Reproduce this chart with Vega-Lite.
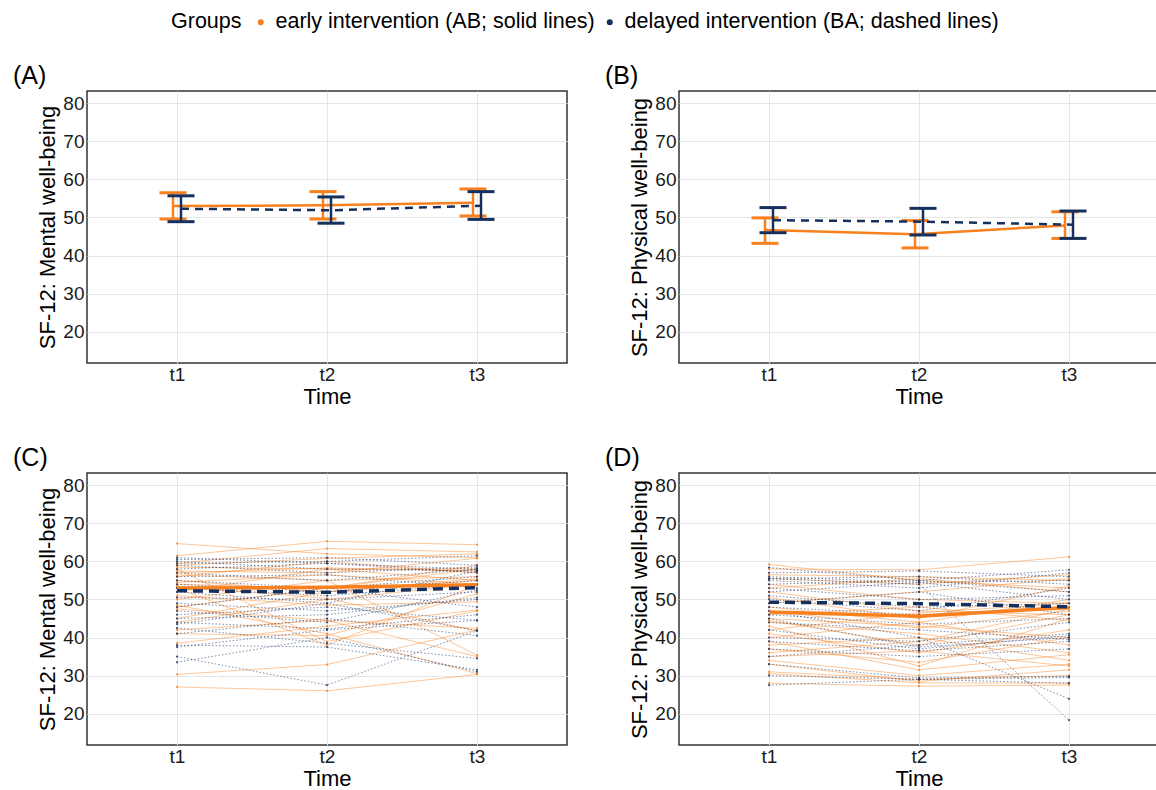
{
  "$schema": "https://vega.github.io/schema/vega-lite/v6.json",
  "padding": {"left": 12, "top": 11, "right": 0, "bottom": 0},
  "background": "white",
  "config": {
    "font": "Liberation Sans",
    "view": {"stroke": "#333333", "strokeWidth": 1.5},
    "axis": {"grid": true, "gridColor": "#e6e6e6", "gridWidth": 1, "domain": false, "ticks": false, "labelFontSize": 19, "labelColor": "#1a1a1a", "titleFontSize": 22, "titleFontWeight": "normal", "titleColor": "#000000", "labelPadding": 3},
    "axisX": {"labelAngle": 0, "labelPadding": 2, "titlePadding": 2},
    "axisY": {"titlePadding": 3},
    "title": {"anchor": "start", "frame": "group", "dx": -74, "fontSize": 25, "fontWeight": "normal", "offset": 2, "color": "#000000"}
  },
  "datasets": {
    "means": [
      {"p": "M", "g": "AB", "time": "t1", "mean": 53.0, "lo": 49.6, "hi": 56.5},
      {"p": "M", "g": "AB", "time": "t2", "mean": 53.2, "lo": 49.6, "hi": 56.8},
      {"p": "M", "g": "AB", "time": "t3", "mean": 53.9, "lo": 50.4, "hi": 57.5},
      {"p": "M", "g": "BA", "time": "t1", "mean": 52.3, "lo": 48.9, "hi": 55.7},
      {"p": "M", "g": "BA", "time": "t2", "mean": 51.9, "lo": 48.5, "hi": 55.4},
      {"p": "M", "g": "BA", "time": "t3", "mean": 53.1, "lo": 49.5, "hi": 56.8},
      {"p": "P", "g": "AB", "time": "t1", "mean": 46.7, "lo": 43.2, "hi": 49.9},
      {"p": "P", "g": "AB", "time": "t2", "mean": 45.6, "lo": 42.0, "hi": 49.2},
      {"p": "P", "g": "AB", "time": "t3", "mean": 47.9, "lo": 44.5, "hi": 51.5},
      {"p": "P", "g": "BA", "time": "t1", "mean": 49.3, "lo": 46.0, "hi": 52.6},
      {"p": "P", "g": "BA", "time": "t2", "mean": 48.9, "lo": 45.4, "hi": 52.4},
      {"p": "P", "g": "BA", "time": "t3", "mean": 48.1, "lo": 44.5, "hi": 51.7}
    ],
    "indiv": [
      {"p": "M", "g": "AB", "id": 1, "t1": 64.7, "t2": 62.0, "t3": 61.0},
      {"p": "M", "g": "AB", "id": 2, "t1": 61.5, "t2": 65.3, "t3": 64.4},
      {"p": "M", "g": "AB", "id": 3, "t1": 59.5, "t2": 63.4, "t3": 62.5},
      {"p": "M", "g": "AB", "id": 4, "t1": 59.0, "t2": 60.8, "t3": 62.0},
      {"p": "M", "g": "AB", "id": 5, "t1": 58.5, "t2": 58.0, "t3": 58.0},
      {"p": "M", "g": "AB", "id": 6, "t1": 58.0, "t2": 38.9, "t3": 47.0},
      {"p": "M", "g": "AB", "id": 7, "t1": 57.5, "t2": 57.0, "t3": 60.8},
      {"p": "M", "g": "AB", "id": 8, "t1": 57.0, "t2": 58.3, "t3": 57.5},
      {"p": "M", "g": "AB", "id": 9, "t1": 56.5, "t2": 55.0, "t3": 35.4},
      {"p": "M", "g": "AB", "id": 10, "t1": 56.0, "t2": 60.0, "t3": 57.0},
      {"p": "M", "g": "AB", "id": 11, "t1": 55.0, "t2": 52.0, "t3": 55.5},
      {"p": "M", "g": "AB", "id": 12, "t1": 54.5, "t2": 56.5, "t3": 54.0},
      {"p": "M", "g": "AB", "id": 13, "t1": 54.0, "t2": 53.0, "t3": 59.0},
      {"p": "M", "g": "AB", "id": 14, "t1": 53.5, "t2": 50.3, "t3": 41.7},
      {"p": "M", "g": "AB", "id": 15, "t1": 53.0, "t2": 38.0, "t3": 53.8},
      {"p": "M", "g": "AB", "id": 16, "t1": 52.0, "t2": 58.0, "t3": 55.0},
      {"p": "M", "g": "AB", "id": 17, "t1": 51.0, "t2": 48.5, "t3": 49.4},
      {"p": "M", "g": "AB", "id": 18, "t1": 50.0, "t2": 55.0, "t3": 56.0},
      {"p": "M", "g": "AB", "id": 19, "t1": 48.0, "t2": 53.0, "t3": 58.0},
      {"p": "M", "g": "AB", "id": 20, "t1": 47.5, "t2": 44.5, "t3": 35.0},
      {"p": "M", "g": "AB", "id": 21, "t1": 45.0, "t2": 52.0, "t3": 55.0},
      {"p": "M", "g": "AB", "id": 22, "t1": 44.0, "t2": 50.0, "t3": 54.0},
      {"p": "M", "g": "AB", "id": 23, "t1": 42.0, "t2": 44.5, "t3": 42.4},
      {"p": "M", "g": "AB", "id": 24, "t1": 41.0, "t2": 40.5, "t3": 51.5},
      {"p": "M", "g": "AB", "id": 25, "t1": 38.5, "t2": 43.0, "t3": 47.2},
      {"p": "M", "g": "AB", "id": 26, "t1": 30.3, "t2": 32.9, "t3": 42.0},
      {"p": "M", "g": "AB", "id": 27, "t1": 27.0, "t2": 26.0, "t3": 30.3},
      {"p": "M", "g": "AB", "id": 28, "t1": 48.5, "t2": 41.0, "t3": 30.5},
      {"p": "M", "g": "BA", "id": 29, "t1": 61.0, "t2": 59.5, "t3": 58.0},
      {"p": "M", "g": "BA", "id": 30, "t1": 60.5, "t2": 61.0, "t3": 59.0},
      {"p": "M", "g": "BA", "id": 31, "t1": 60.0, "t2": 58.0, "t3": 57.5},
      {"p": "M", "g": "BA", "id": 32, "t1": 59.5, "t2": 60.0, "t3": 61.5},
      {"p": "M", "g": "BA", "id": 33, "t1": 59.0, "t2": 57.0, "t3": 58.5},
      {"p": "M", "g": "BA", "id": 34, "t1": 58.0, "t2": 59.5, "t3": 57.0},
      {"p": "M", "g": "BA", "id": 35, "t1": 57.0, "t2": 55.0, "t3": 58.0},
      {"p": "M", "g": "BA", "id": 36, "t1": 56.0, "t2": 56.5, "t3": 53.0},
      {"p": "M", "g": "BA", "id": 37, "t1": 55.0, "t2": 53.0, "t3": 56.0},
      {"p": "M", "g": "BA", "id": 38, "t1": 54.0, "t2": 52.0, "t3": 55.0},
      {"p": "M", "g": "BA", "id": 39, "t1": 53.0, "t2": 51.0, "t3": 54.0},
      {"p": "M", "g": "BA", "id": 40, "t1": 52.0, "t2": 49.0, "t3": 57.5},
      {"p": "M", "g": "BA", "id": 41, "t1": 50.5, "t2": 50.0, "t3": 52.0},
      {"p": "M", "g": "BA", "id": 42, "t1": 49.0, "t2": 47.0, "t3": 50.0},
      {"p": "M", "g": "BA", "id": 43, "t1": 48.0, "t2": 53.0, "t3": 48.0},
      {"p": "M", "g": "BA", "id": 44, "t1": 47.0, "t2": 44.0, "t3": 52.5},
      {"p": "M", "g": "BA", "id": 45, "t1": 46.0, "t2": 48.0, "t3": 44.5},
      {"p": "M", "g": "BA", "id": 46, "t1": 45.0, "t2": 46.0, "t3": 50.5},
      {"p": "M", "g": "BA", "id": 47, "t1": 44.0, "t2": 42.3, "t3": 46.0},
      {"p": "M", "g": "BA", "id": 48, "t1": 43.5, "t2": 49.0, "t3": 41.8},
      {"p": "M", "g": "BA", "id": 49, "t1": 42.5, "t2": 38.5, "t3": 34.5},
      {"p": "M", "g": "BA", "id": 50, "t1": 41.0, "t2": 45.0, "t3": 40.5},
      {"p": "M", "g": "BA", "id": 51, "t1": 38.0, "t2": 37.5, "t3": 31.5},
      {"p": "M", "g": "BA", "id": 52, "t1": 37.5, "t2": 42.0, "t3": 44.5},
      {"p": "M", "g": "BA", "id": 53, "t1": 35.0, "t2": 27.5, "t3": 41.8},
      {"p": "M", "g": "BA", "id": 54, "t1": 33.5, "t2": 40.0, "t3": 31.0},
      {"p": "P", "g": "AB", "id": 55, "t1": 59.2, "t2": 55.0, "t3": 53.0},
      {"p": "P", "g": "AB", "id": 56, "t1": 58.0, "t2": 57.8, "t3": 61.2},
      {"p": "P", "g": "AB", "id": 57, "t1": 56.5, "t2": 56.0, "t3": 55.0},
      {"p": "P", "g": "AB", "id": 58, "t1": 55.5, "t2": 54.0, "t3": 56.5},
      {"p": "P", "g": "AB", "id": 59, "t1": 54.0, "t2": 50.0, "t3": 49.0},
      {"p": "P", "g": "AB", "id": 60, "t1": 53.0, "t2": 55.5, "t3": 52.0},
      {"p": "P", "g": "AB", "id": 61, "t1": 52.0, "t2": 47.0, "t3": 46.0},
      {"p": "P", "g": "AB", "id": 62, "t1": 50.5, "t2": 45.0, "t3": 53.5},
      {"p": "P", "g": "AB", "id": 63, "t1": 49.0, "t2": 52.0, "t3": 55.5},
      {"p": "P", "g": "AB", "id": 64, "t1": 48.0, "t2": 44.0, "t3": 50.0},
      {"p": "P", "g": "AB", "id": 65, "t1": 47.0, "t2": 42.5, "t3": 47.0},
      {"p": "P", "g": "AB", "id": 66, "t1": 46.0, "t2": 48.0, "t3": 44.5},
      {"p": "P", "g": "AB", "id": 67, "t1": 45.0, "t2": 43.0, "t3": 40.0},
      {"p": "P", "g": "AB", "id": 68, "t1": 44.5, "t2": 38.0, "t3": 46.0},
      {"p": "P", "g": "AB", "id": 69, "t1": 44.0, "t2": 41.0, "t3": 36.0},
      {"p": "P", "g": "AB", "id": 70, "t1": 43.0, "t2": 32.5, "t3": 45.0},
      {"p": "P", "g": "AB", "id": 71, "t1": 42.0, "t2": 46.5, "t3": 49.0},
      {"p": "P", "g": "AB", "id": 72, "t1": 41.0, "t2": 36.0, "t3": 42.0},
      {"p": "P", "g": "AB", "id": 73, "t1": 40.0, "t2": 44.0, "t3": 38.0},
      {"p": "P", "g": "AB", "id": 74, "t1": 39.0, "t2": 31.5, "t3": 35.5},
      {"p": "P", "g": "AB", "id": 75, "t1": 38.0, "t2": 40.0, "t3": 34.0},
      {"p": "P", "g": "AB", "id": 76, "t1": 37.0, "t2": 33.5, "t3": 40.0},
      {"p": "P", "g": "AB", "id": 77, "t1": 36.0, "t2": 39.0, "t3": 47.5},
      {"p": "P", "g": "AB", "id": 78, "t1": 35.0, "t2": 36.5, "t3": 32.5},
      {"p": "P", "g": "AB", "id": 79, "t1": 34.0, "t2": 30.0, "t3": 33.0},
      {"p": "P", "g": "AB", "id": 80, "t1": 33.0, "t2": 28.5, "t3": 31.5},
      {"p": "P", "g": "AB", "id": 81, "t1": 31.0, "t2": 29.0, "t3": 30.0},
      {"p": "P", "g": "AB", "id": 82, "t1": 30.5, "t2": 28.1, "t3": 28.0},
      {"p": "P", "g": "AB", "id": 83, "t1": 28.0, "t2": 27.2, "t3": 27.5},
      {"p": "P", "g": "BA", "id": 84, "t1": 58.4, "t2": 55.0, "t3": 57.8},
      {"p": "P", "g": "BA", "id": 85, "t1": 57.0, "t2": 57.5, "t3": 56.0},
      {"p": "P", "g": "BA", "id": 86, "t1": 55.5, "t2": 54.0, "t3": 18.3},
      {"p": "P", "g": "BA", "id": 87, "t1": 47.0, "t2": 40.0, "t3": 23.9},
      {"p": "P", "g": "BA", "id": 88, "t1": 56.0, "t2": 54.5, "t3": 55.0},
      {"p": "P", "g": "BA", "id": 89, "t1": 55.5, "t2": 56.0, "t3": 54.0},
      {"p": "P", "g": "BA", "id": 90, "t1": 55.0, "t2": 53.0, "t3": 57.0},
      {"p": "P", "g": "BA", "id": 91, "t1": 54.0, "t2": 55.0, "t3": 52.0},
      {"p": "P", "g": "BA", "id": 92, "t1": 53.0, "t2": 50.0, "t3": 51.0},
      {"p": "P", "g": "BA", "id": 93, "t1": 52.0, "t2": 54.5, "t3": 50.0},
      {"p": "P", "g": "BA", "id": 94, "t1": 51.0, "t2": 48.0, "t3": 49.0},
      {"p": "P", "g": "BA", "id": 95, "t1": 50.0, "t2": 47.0, "t3": 53.0},
      {"p": "P", "g": "BA", "id": 96, "t1": 49.0, "t2": 52.0, "t3": 46.0},
      {"p": "P", "g": "BA", "id": 97, "t1": 48.0, "t2": 46.0, "t3": 48.0},
      {"p": "P", "g": "BA", "id": 98, "t1": 46.0, "t2": 43.5, "t3": 45.0},
      {"p": "P", "g": "BA", "id": 99, "t1": 45.0, "t2": 37.5, "t3": 40.0},
      {"p": "P", "g": "BA", "id": 100, "t1": 44.0, "t2": 42.0, "t3": 39.5},
      {"p": "P", "g": "BA", "id": 101, "t1": 42.0, "t2": 37.0, "t3": 40.5},
      {"p": "P", "g": "BA", "id": 102, "t1": 40.0, "t2": 39.0, "t3": 44.0},
      {"p": "P", "g": "BA", "id": 103, "t1": 39.0, "t2": 36.5, "t3": 39.0},
      {"p": "P", "g": "BA", "id": 104, "t1": 37.0, "t2": 35.0, "t3": 37.0},
      {"p": "P", "g": "BA", "id": 105, "t1": 35.0, "t2": 38.0, "t3": 41.0},
      {"p": "P", "g": "BA", "id": 106, "t1": 33.0, "t2": 29.4, "t3": 29.8},
      {"p": "P", "g": "BA", "id": 107, "t1": 30.0, "t2": 29.0, "t3": 28.0},
      {"p": "P", "g": "BA", "id": 108, "t1": 27.5, "t2": 29.0, "t3": 29.5}
    ]
  },
  "columns": 2,
  "spacing": {"row": 37, "column": 36},
  "resolve": {"scale": {"color": "shared", "x": "independent", "y": "independent"}, "legend": {"color": "shared"}},
  "concat": [
    {
      "title": {"text": "(A)"},
      "width": 480, "height": 272,
      "data": {"name": "means"},
      "transform": [{"filter": "datum.p == 'M'"}],
      "encoding": {
        "x": {"field": "time", "type": "nominal", "scale": {"type": "point", "padding": 0.6, "domain": ["t1", "t2", "t3"]}, "axis": {"title": "Time"}},
        "color": {"field": "g", "type": "nominal", "scale": {"domain": ["AB", "BA"], "range": ["#F8801E", "#15305E"]},
          "legend": {"orient": "none", "legendX": 84, "legendY": -80, "direction": "horizontal", "title": "Groups", "titleOrient": "left", "titleFontSize": 21.5, "titleFontWeight": "normal", "titleColor": "#000000", "titlePadding": 8, "labelFontSize": 21.5, "labelColor": "#000000", "labelLimit": 0, "labelOffset": 4, "columnPadding": 4, "symbolType": "circle", "symbolSize": 36,
            "labelExpr": "datum.label == 'AB' ? 'early intervention (AB; solid lines)' : 'delayed intervention (BA; dashed lines)'",
            "encode": {"symbols": {"update": {"fill": {"scale": "color", "field": "value"}, "fillOpacity": {"value": 1}, "strokeWidth": {"value": 0}, "opacity": {"value": 1}}}}}}
      },
      "layer": [
        {"transform": [{"filter": "datum.g == 'AB'"}], "mark": {"type": "line", "strokeWidth": 2.5, "xOffset": -4},
          "encoding": {"y": {"field": "mean", "type": "quantitative", "title": "SF-12: Mental well-being", "scale": {"domain": [11.75, 83.25], "nice": false, "zero": false}, "axis": {"values": [20, 30, 40, 50, 60, 70, 80]}}}},
        {"transform": [{"filter": "datum.g == 'AB'"}], "mark": {"type": "rule", "strokeWidth": 2.5, "xOffset": -4},
          "encoding": {"y": {"field": "lo", "type": "quantitative", "title": "SF-12: Mental well-being"}, "y2": {"field": "hi"}}},
        {"transform": [{"filter": "datum.g == 'AB'"}], "mark": {"type": "tick", "orient": "horizontal", "size": 27, "thickness": 3, "xOffset": -4, "opacity": 1},
          "encoding": {"y": {"field": "lo", "type": "quantitative", "title": "SF-12: Mental well-being"}}},
        {"transform": [{"filter": "datum.g == 'AB'"}], "mark": {"type": "tick", "orient": "horizontal", "size": 27, "thickness": 3, "xOffset": -4, "opacity": 1},
          "encoding": {"y": {"field": "hi", "type": "quantitative", "title": "SF-12: Mental well-being"}}},
        {"transform": [{"filter": "datum.g == 'BA'"}], "mark": {"type": "line", "strokeWidth": 2.5, "strokeDash": [8, 6], "xOffset": 4},
          "encoding": {"y": {"field": "mean", "type": "quantitative", "title": "SF-12: Mental well-being"}}},
        {"transform": [{"filter": "datum.g == 'BA'"}], "mark": {"type": "rule", "strokeWidth": 2.5, "xOffset": 4},
          "encoding": {"y": {"field": "lo", "type": "quantitative", "title": "SF-12: Mental well-being"}, "y2": {"field": "hi"}}},
        {"transform": [{"filter": "datum.g == 'BA'"}], "mark": {"type": "tick", "orient": "horizontal", "size": 27, "thickness": 3, "xOffset": 4, "opacity": 1},
          "encoding": {"y": {"field": "lo", "type": "quantitative", "title": "SF-12: Mental well-being"}}},
        {"transform": [{"filter": "datum.g == 'BA'"}], "mark": {"type": "tick", "orient": "horizontal", "size": 27, "thickness": 3, "xOffset": 4, "opacity": 1},
          "encoding": {"y": {"field": "hi", "type": "quantitative", "title": "SF-12: Mental well-being"}}}
      ]
    },
    {
      "title": {"text": "(B)"},
      "width": 480, "height": 272,
      "data": {"name": "means"},
      "transform": [{"filter": "datum.p == 'P'"}],
      "encoding": {
        "x": {"field": "time", "type": "nominal", "scale": {"type": "point", "padding": 0.6, "domain": ["t1", "t2", "t3"]}, "axis": {"title": "Time"}},
        "color": {"field": "g", "type": "nominal", "scale": {"domain": ["AB", "BA"], "range": ["#F8801E", "#15305E"]}}
      },
      "layer": [
        {"transform": [{"filter": "datum.g == 'AB'"}], "mark": {"type": "line", "strokeWidth": 2.5, "xOffset": -4},
          "encoding": {"y": {"field": "mean", "type": "quantitative", "title": "SF-12: Physical well-being", "scale": {"domain": [11.75, 83.25], "nice": false, "zero": false}, "axis": {"values": [20, 30, 40, 50, 60, 70, 80]}}}},
        {"transform": [{"filter": "datum.g == 'AB'"}], "mark": {"type": "rule", "strokeWidth": 2.5, "xOffset": -4},
          "encoding": {"y": {"field": "lo", "type": "quantitative", "title": "SF-12: Physical well-being"}, "y2": {"field": "hi"}}},
        {"transform": [{"filter": "datum.g == 'AB'"}], "mark": {"type": "tick", "orient": "horizontal", "size": 27, "thickness": 3, "xOffset": -4, "opacity": 1},
          "encoding": {"y": {"field": "lo", "type": "quantitative", "title": "SF-12: Physical well-being"}}},
        {"transform": [{"filter": "datum.g == 'AB'"}], "mark": {"type": "tick", "orient": "horizontal", "size": 27, "thickness": 3, "xOffset": -4, "opacity": 1},
          "encoding": {"y": {"field": "hi", "type": "quantitative", "title": "SF-12: Physical well-being"}}},
        {"transform": [{"filter": "datum.g == 'BA'"}], "mark": {"type": "line", "strokeWidth": 2.5, "strokeDash": [8, 6], "xOffset": 4},
          "encoding": {"y": {"field": "mean", "type": "quantitative", "title": "SF-12: Physical well-being"}}},
        {"transform": [{"filter": "datum.g == 'BA'"}], "mark": {"type": "rule", "strokeWidth": 2.5, "xOffset": 4},
          "encoding": {"y": {"field": "lo", "type": "quantitative", "title": "SF-12: Physical well-being"}, "y2": {"field": "hi"}}},
        {"transform": [{"filter": "datum.g == 'BA'"}], "mark": {"type": "tick", "orient": "horizontal", "size": 27, "thickness": 3, "xOffset": 4, "opacity": 1},
          "encoding": {"y": {"field": "lo", "type": "quantitative", "title": "SF-12: Physical well-being"}}},
        {"transform": [{"filter": "datum.g == 'BA'"}], "mark": {"type": "tick", "orient": "horizontal", "size": 27, "thickness": 3, "xOffset": 4, "opacity": 1},
          "encoding": {"y": {"field": "hi", "type": "quantitative", "title": "SF-12: Physical well-being"}}}
      ]
    },
    {
      "title": {"text": "(C)"},
      "width": 480, "height": 272,
      "encoding": {
        "x": {"field": "time", "type": "nominal", "scale": {"type": "point", "padding": 0.6, "domain": ["t1", "t2", "t3"]}, "axis": {"title": "Time"}},
        "color": {"field": "g", "type": "nominal", "scale": {"domain": ["AB", "BA"], "range": ["#F8801E", "#15305E"]}}
      },
      "layer": [
        {"data": {"name": "indiv"}, "transform": [{"filter": "datum.p == 'M' && datum.g == 'AB'"}, {"fold": ["t1", "t2", "t3"], "as": ["time", "value"]}],
          "mark": {"type": "line", "strokeWidth": 1, "opacity": 0.45},
          "encoding": {"detail": {"field": "id", "type": "nominal"}, "y": {"field": "value", "type": "quantitative", "title": "SF-12: Mental well-being", "scale": {"domain": [11.75, 83.25], "nice": false, "zero": false}, "axis": {"values": [20, 30, 40, 50, 60, 70, 80]}}}},
        {"data": {"name": "indiv"}, "transform": [{"filter": "datum.p == 'M' && datum.g == 'BA'"}, {"fold": ["t1", "t2", "t3"], "as": ["time", "value"]}],
          "mark": {"type": "line", "strokeWidth": 1, "opacity": 0.55, "strokeDash": [1.5, 2]},
          "encoding": {"detail": {"field": "id", "type": "nominal"}, "y": {"field": "value", "type": "quantitative", "title": "SF-12: Mental well-being"}}},
        {"data": {"name": "indiv"}, "transform": [{"filter": "datum.p == 'M'"}, {"fold": ["t1", "t2", "t3"], "as": ["time", "value"]}],
          "mark": {"type": "point", "filled": true, "size": 5, "opacity": 0.8},
          "encoding": {"y": {"field": "value", "type": "quantitative", "title": "SF-12: Mental well-being"}}},
        {"data": {"name": "means"}, "transform": [{"filter": "datum.p == 'M' && datum.g == 'AB'"}],
          "mark": {"type": "line", "strokeWidth": 3.5},
          "encoding": {"y": {"field": "mean", "type": "quantitative", "title": "SF-12: Mental well-being"}}},
        {"data": {"name": "means"}, "transform": [{"filter": "datum.p == 'M' && datum.g == 'BA'"}],
          "mark": {"type": "line", "strokeWidth": 3.5, "strokeDash": [10, 6]},
          "encoding": {"y": {"field": "mean", "type": "quantitative", "title": "SF-12: Mental well-being"}}}
      ]
    },
    {
      "title": {"text": "(D)"},
      "width": 480, "height": 272,
      "encoding": {
        "x": {"field": "time", "type": "nominal", "scale": {"type": "point", "padding": 0.6, "domain": ["t1", "t2", "t3"]}, "axis": {"title": "Time"}},
        "color": {"field": "g", "type": "nominal", "scale": {"domain": ["AB", "BA"], "range": ["#F8801E", "#15305E"]}}
      },
      "layer": [
        {"data": {"name": "indiv"}, "transform": [{"filter": "datum.p == 'P' && datum.g == 'AB'"}, {"fold": ["t1", "t2", "t3"], "as": ["time", "value"]}],
          "mark": {"type": "line", "strokeWidth": 1, "opacity": 0.45},
          "encoding": {"detail": {"field": "id", "type": "nominal"}, "y": {"field": "value", "type": "quantitative", "title": "SF-12: Physical well-being", "scale": {"domain": [11.75, 83.25], "nice": false, "zero": false}, "axis": {"values": [20, 30, 40, 50, 60, 70, 80]}}}},
        {"data": {"name": "indiv"}, "transform": [{"filter": "datum.p == 'P' && datum.g == 'BA'"}, {"fold": ["t1", "t2", "t3"], "as": ["time", "value"]}],
          "mark": {"type": "line", "strokeWidth": 1, "opacity": 0.55, "strokeDash": [1.5, 2]},
          "encoding": {"detail": {"field": "id", "type": "nominal"}, "y": {"field": "value", "type": "quantitative", "title": "SF-12: Physical well-being"}}},
        {"data": {"name": "indiv"}, "transform": [{"filter": "datum.p == 'P'"}, {"fold": ["t1", "t2", "t3"], "as": ["time", "value"]}],
          "mark": {"type": "point", "filled": true, "size": 5, "opacity": 0.8},
          "encoding": {"y": {"field": "value", "type": "quantitative", "title": "SF-12: Physical well-being"}}},
        {"data": {"name": "means"}, "transform": [{"filter": "datum.p == 'P' && datum.g == 'AB'"}],
          "mark": {"type": "line", "strokeWidth": 3.5},
          "encoding": {"y": {"field": "mean", "type": "quantitative", "title": "SF-12: Physical well-being"}}},
        {"data": {"name": "means"}, "transform": [{"filter": "datum.p == 'P' && datum.g == 'BA'"}],
          "mark": {"type": "line", "strokeWidth": 3.5, "strokeDash": [10, 6]},
          "encoding": {"y": {"field": "mean", "type": "quantitative", "title": "SF-12: Physical well-being"}}}
      ]
    }
  ]
}
